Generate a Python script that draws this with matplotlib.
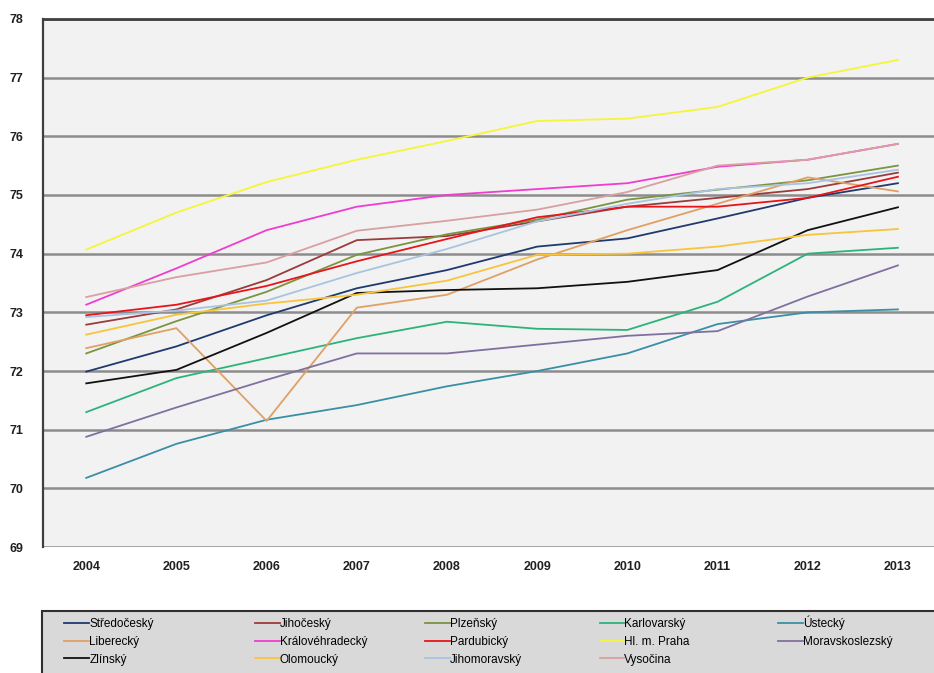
import matplotlib
matplotlib.use("Agg")
import matplotlib.pyplot as plt
from matplotlib.patches import Rectangle
from matplotlib import font_manager

# úzké písmo, pokud je k dispozici
names = {f.name for f in font_manager.fontManager.ttflist}
family = 'Liberation Sans Narrow' if 'Liberation Sans Narrow' in names else 'Liberation Sans'
plt.rcParams['font.family'] = [family, 'DejaVu Sans']

years = ['2004', '2005', '2006', '2007', '2008', '2009', '2010', '2011', '2012', '2013']

# naděje dožití při narození, kraje ČR
stredocesky = [71.99, 72.42, 72.95, 73.41, 73.72, 74.12, 74.26, 74.60, 74.95, 75.20]
jihocesky = [72.79, 73.05, 73.55, 74.23, 74.30, 74.55, 74.80, 74.95, 75.10, 75.38]
plzensky = [72.30, 72.85, 73.35, 73.98, 74.33, 74.58, 74.92, 75.09, 75.25, 75.50]
karlovarsky = [71.30, 71.88, 72.22, 72.56, 72.84, 72.72, 72.70, 73.18, 74.00, 74.10]
ustecky = [70.18, 70.76, 71.17, 71.42, 71.74, 72.00, 72.30, 72.80, 73.00, 73.05]
liberecky = [72.39, 72.73, 71.15, 73.08, 73.30, 73.90, 74.40, 74.85, 75.30, 75.06]
kralovehradecky = [73.13, 73.75, 74.40, 74.80, 75.00, 75.10, 75.20, 75.48, 75.60, 75.87]
pardubicky = [72.95, 73.13, 73.45, 73.87, 74.25, 74.62, 74.80, 74.80, 74.95, 75.31]
praha = [74.07, 74.70, 75.22, 75.60, 75.92, 76.26, 76.30, 76.50, 77.00, 77.30]
moravskoslezsky = [70.88, 71.38, 71.85, 72.30, 72.30, 72.45, 72.60, 72.68, 73.27, 73.80]
zlinsky = [71.79, 72.02, 72.65, 73.33, 73.38, 73.41, 73.52, 73.72, 74.40, 74.79]
olomoucky = [72.62, 72.96, 73.15, 73.30, 73.54, 73.98, 74.00, 74.12, 74.32, 74.42]
jihomoravsky = [72.92, 73.03, 73.20, 73.67, 74.08, 74.55, 74.85, 75.10, 75.20, 75.43]
vysocina = [73.26, 73.60, 73.85, 74.39, 74.56, 74.75, 75.05, 75.50, 75.60, 75.87]

series = [
    ('Středočeský', stredocesky, '#1f3a6e'),
    ('Jihočeský', jihocesky, '#9b3b3b'),
    ('Plzeňský', plzensky, '#7a9440'),
    ('Karlovarský', karlovarsky, '#2bb47a'),
    ('Ústecký', ustecky, '#3a8fa6'),
    ('Liberecký', liberecky, '#e0a064'),
    ('Královéhradecký', kralovehradecky, '#f03cd0'),
    ('Pardubický', pardubicky, '#e8141c'),
    ('Hl. m. Praha', praha, '#f5f53a'),
    ('Moravskoslezský', moravskoslezsky, '#8070a0'),
    ('Zlínský', zlinsky, '#111111'),
    ('Olomoucký', olomoucky, '#f8c43a'),
    ('Jihomoravský', jihomoravsky, '#a8c4e0'),
    ('Vysočina', vysocina, '#d8a0a0'),
]

fig = plt.figure(figsize=(9.34, 6.73), dpi=100)
ax = fig.add_axes([0.046, 0.187, 0.954, 0.785])
ax.set_facecolor('#f2f2f2')

x = list(range(len(years)))
handles = []
for name, vals, col in series:
    h, = ax.plot(x, vals, color=col, lw=1.3, label=name)
    handles.append(h)

ax.set_xlim(-0.48, 9.4)
ax.set_ylim(69, 78)
ax.set_yticks(range(69, 79))
ax.set_xticks(x)
ax.set_xticklabels(years)
ax.grid(axis='y', color='#8c8c8c', lw=1.8)
ax.set_axisbelow(True)
ax.tick_params(length=0, labelsize=9)
ax.tick_params(axis='y', pad=14)
ax.tick_params(axis='x', pad=10)
for lbl in ax.get_xticklabels() + ax.get_yticklabels():
    lbl.set_fontweight('bold')
    lbl.set_color('#202020')

for s in ['right', 'bottom']:
    ax.spines[s].set_visible(False)
ax.spines['left'].set_color('#404040')
ax.spines['left'].set_linewidth(1.6)
ax.spines['top'].set_color('#404040')
ax.spines['top'].set_linewidth(2.0)

# legenda v šedém rámečku pod grafem, pět sloupců po řádcích
fig.patches.append(Rectangle((0.045, -0.02), 0.97, 0.112, transform=fig.transFigure,
                             facecolor='#d9d9d9', edgecolor='#303030', lw=1.5, zorder=0))
col_x = [0.069, 0.273, 0.455, 0.642, 0.833]
col_top = [0.082, 0.082, 0.082, 0.082, 0.085]   # "Ú" je vyšší než ostatní popisky
for c, x0 in enumerate(col_x):
    idx = list(range(c, len(series), 5))
    fig.legend([handles[i] for i in idx], [series[i][0] for i in idx],
               loc='upper left', bbox_to_anchor=(x0, col_top[c]), frameon=False,
               fontsize=8.5, handlelength=2.1, handletextpad=0.0,
               labelspacing=0.5, borderpad=0, borderaxespad=0)

fig.savefig('out.png', dpi=100)
